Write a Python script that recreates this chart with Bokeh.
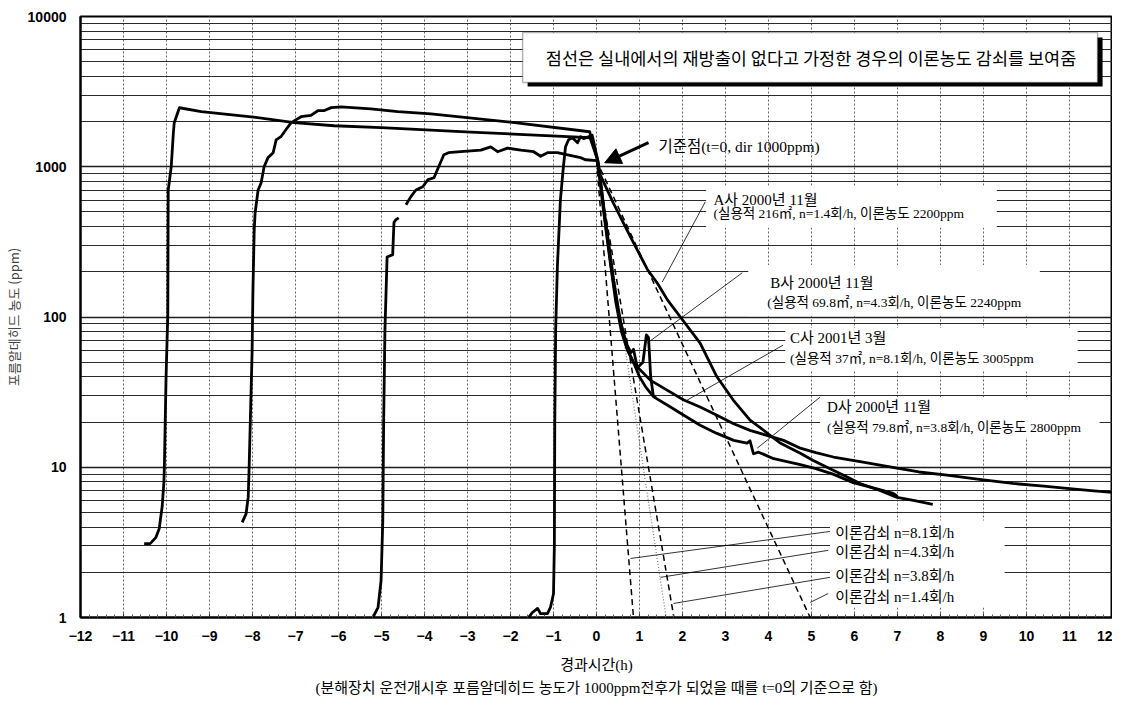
import numpy as np
from bokeh.plotting import figure
from bokeh.models import (Range1d, FixedTicker, Label, BoxAnnotation, Arrow,
                          NormalHead, Title)
from bokeh.embed import file_html
from bokeh.resources import INLINE

nan = float("nan")

# ---------------- data ----------------
# Company A (curve starting near -10.5 h)
A_t = [-10.52, -10.38, -10.25, -10.17, -10.10, -10.06, -10.05, -10.01, -9.98, -9.97,
       -9.96, -9.89, -9.84, -9.82, -9.70, -9.19, -8.03, -7.03, -6.10, -5.01, -2.92,
       -0.67, -0.15, 0.02, 0.09, 0.39, 0.79, 1.18, 1.42, 1.65, 1.95, 2.41, 2.80, 3.18,
       3.57, 3.97, 4.27, 4.74, 5.04, 5.36, 5.83, 6.13, 6.59, 6.99, 7.40, 7.82]
A_v = [3.1, 3.1, 3.4, 3.9, 5.5, 8, 10, 40, 82, 100,
       700, 1000, 1685, 1965, 2470, 2330, 2150, 1965, 1875, 1820, 1700,
       1585, 1560, 1120, 880, 575, 342, 208, 167, 130, 100, 67, 40, 28,
       20.6, 16.9, 14.5, 12.4, 11.1, 10.0, 8.6, 7.8, 7.0, 6.3, 6.0, 5.67]

# Company B (curve starting near -8.2 h, spike after t=0)
B_t = [-8.24, -8.15, -8.10, -8.08, -8.05, -8.01, -7.99, -7.96, -7.94, -7.87, -7.80,
       -7.73, -7.64, -7.52, -7.45, -7.34, -7.22, -7.10, -6.87, -6.64, -6.48, -6.34,
       -6.17, -5.94, -5.25, -4.62, -3.85, -2.00, -0.16, 0.03, 0.20, 0.40, 0.55, 0.70,
       0.80, 0.86, 0.95, 1.08, 1.16, 1.21, 1.26, 1.32, 1.38]
B_v = [4.3, 4.9, 6.3, 9.5, 20.6, 57.5, 150, 380, 490, 700, 780,
       1000, 1150, 1240, 1510, 1585, 1770, 1965, 2154, 2200, 2360, 2360,
       2474, 2500, 2430, 2326, 2250, 1980, 1710, 1100, 460, 175, 95, 66,
       58, 61, 46, 50, 76, 73, 40, 30, 29]

# Company C (curve starting near -5.2 h, continues to 12 h)
C_t = [-5.20, -5.08, -5.01, -4.97, -4.95, -4.92, -4.87, -4.74, -4.71, -4.67, -4.60, nan,
       -4.43, -4.32, -4.20, -4.04, -3.92, -3.78, -3.67, -3.55, -3.44, -3.16, -2.69,
       -2.46, -2.30, -2.07, -1.76, -1.46, -1.30, -1.14, -0.91, -0.67, -0.37, -0.26,
       0.02, 0.10, 0.20, 0.30, 0.40, 0.50, 0.60, 0.72, 0.87, 1.25, 1.64, 2.03, 2.41,
       2.80, 3.19, 3.57, 3.96, 4.35, 4.74, 5.10, 5.51, 6.13, 6.99, 7.50, 8.15, 8.90,
       9.68, 10.40, 11.00, 11.50, 12.00]
C_v = [1.0, 1.17, 1.76, 4.4, 20, 82, 251, 260, 425, 443, 457, nan,
       558, 630, 700, 736, 820, 845, 1000, 1202, 1240, 1259, 1290,
       1355, 1259, 1330, 1290, 1259, 1175, 1240, 1240, 1200, 1150, 1113,
       1100, 780, 440, 265, 165, 112, 82, 61, 49, 38, 32.6, 28, 25.2,
       22.2, 19.5, 17.6, 16.3, 15.1, 13.4, 12.5, 11.7, 10.9, 9.85, 9.3, 8.85, 8.3,
       7.8, 7.5, 7.2, 7.0, 6.8]

# Company D (curve starting near -1.6 h)
D_t = [-1.58, -1.49, -1.37, -1.30, -1.14, -1.07, -1.00, -0.98, -0.97, -0.95, -0.91,
       -0.84, -0.77, -0.72, -0.65, -0.56, -0.44, -0.37, -0.30, -0.19, -0.10, 0.03,
       0.12, 0.22, 0.33, 0.45, 0.58, 0.72, 0.86, 1.00, 1.15, 1.33, 1.72, 2.03, 2.41,
       2.80, 3.19, 3.50, 3.57, 3.65, 3.77, 4.12, 4.74, 5.10, 5.50, 5.97, 6.50, 6.90, 7.00]
D_v = [1.0, 1.08, 1.15, 1.06, 1.06, 1.17, 1.44, 3, 20, 82, 215,
       600, 1000, 1360, 1514, 1560, 1445, 1585, 1540, 1585, 1620, 1100,
       640, 380, 220, 125, 80, 60, 50, 40, 34, 29.4, 25.2, 22.2, 19.05,
       16.8, 15.1, 14.5, 15.0, 12.3, 12.6, 11.4, 10.4, 9.8, 9.0, 7.9, 7.2, 6.7, 6.4]

# Theoretical decay lines (straight on log axis): start and end points
theory_n = ["8.1", "4.3", "3.8", "1.4"]
theory_t = [[0.0, 0.86], [0.0, 1.62], [0.0, 1.80], [0.0, 4.97]]
theory_v = [[1100, 1], [1100, 1], [1100, 1], [1100, 1]]

x_ticks = list(range(-12, 13))
y_ticks = [1, 10, 100, 1000, 10000]
y_minor = [m * 10 ** d for d in range(4) for m in range(2, 10)]
x_minor = [i / 5 for i in range(-60, 61) if i % 5]

KR = "Noto Sans CJK KR"
MIX = "Liberation Serif, Noto Sans CJK KR"

# ---------------- figure ----------------
p = figure(frame_width=1032, frame_height=601, x_range=Range1d(-12, 12), y_range=Range1d(1, 10000),
           y_axis_type="log", output_backend="svg", toolbar_location=None,
           min_border_left=71, min_border_right=0, min_border_top=16, min_border_bottom=10)
p.background_fill_color = "white"
p.border_fill_color = "white"
p.outline_line_color = "black"
p.outline_line_width = 2

xt = FixedTicker(ticks=x_ticks, minor_ticks=x_minor)
p.xaxis.ticker = xt
p.xgrid.ticker = FixedTicker(ticks=x_ticks)
yt = FixedTicker(ticks=y_ticks, minor_ticks=y_minor)
p.yaxis.ticker = yt
p.ygrid.ticker = yt

p.xgrid.grid_line_color = "#666666"
p.xgrid.grid_line_dash = "2 2"
p.xgrid.grid_line_width = 1
p.ygrid.grid_line_color = "#1e1e1e"
p.ygrid.grid_line_width = 1.3
p.ygrid.minor_grid_line_color = "#2a2a2a"
p.ygrid.minor_grid_line_width = 1

p.xaxis.major_label_overrides = {v: ("\u2212%d" % -v if v < 0 else "%d" % v) for v in x_ticks}
p.yaxis.major_label_overrides = {v: str(v) for v in y_ticks}

for ax in (p.xaxis, p.yaxis):
    ax.axis_line_color = "black"
    ax.axis_line_width = 2
    ax.major_label_text_font = "Liberation Sans"
    ax.major_label_text_font_size = "14px"
    ax.major_label_text_color = "black"
p.xaxis.major_label_text_font_style = "bold"
p.yaxis.major_label_text_font_style = "bold"
p.xaxis.major_tick_in = 4
p.xaxis.major_tick_out = 0
p.xaxis.major_tick_line_color = "#333333"
p.xaxis.minor_tick_in = 3
p.xaxis.minor_tick_out = 0
p.xaxis.minor_tick_line_color = "#555555"
p.xaxis.major_label_standoff = 13
p.yaxis.major_tick_line_color = None
p.yaxis.minor_tick_line_color = None
p.yaxis.major_label_standoff = 8

p.xaxis.axis_label = "경과시간(h)"
p.xaxis.axis_label_text_font = MIX
p.xaxis.axis_label_text_font_size = "15px"
p.xaxis.axis_label_text_font_style = "normal"
p.xaxis.axis_label_text_color = "black"
p.xaxis.axis_label_standoff = 13

p.yaxis.axis_label = "포름알데히드 농도 (ppm)"
p.yaxis.axis_label_text_font = KR
p.yaxis.axis_label_text_font_size = "13px"
p.yaxis.axis_label_text_font_style = "normal"
p.yaxis.axis_label_text_color = "#444444"
p.yaxis.axis_label_standoff = 2

p.add_layout(Title(text="(분해장치 운전개시후 포름알데히드 농도가 1000ppm전후가 되었을 때를 t=0의 기준으로 함)",
                   align="center", text_font=MIX, text_font_size="15px",
                   text_font_style="normal", text_color="black", standoff=4), "below")

# theoretical lines
styles = [dict(line_dash="6 4", line_color="black", line_width=1.5),
          dict(line_dash="1 2", line_color="#777777", line_width=1.2),
          dict(line_dash="6 4", line_color="black", line_width=1.5),
          dict(line_dash="6 4", line_color="black", line_width=1.5)]
for tt, vv, st in zip(theory_t, theory_v, styles):
    p.line(tt, vv, **st)

# measured curves
for tt, vv in ((A_t, A_v), (B_t, B_v), (C_t, C_v), (D_t, D_v)):
    p.line(np.array(tt, dtype=float), np.array(vv, dtype=float),
           line_color="black", line_width=2.8, line_join="round")

# ---------------- annotations ----------------
# leader lines
lead_x0 = [2.53, 3.39, 4.34, 5.20, 5.43, 5.39, 5.43, 5.39]
lead_y0 = [584, 197, 65, 29.3, 3.74, 2.8, 1.85, 1.445]
lead_x1 = [1.53, 1.18, 2.11, 3.74, 0.79, 1.49, 1.79, 4.97]
lead_y1 = [171, 67, 28, 13.4, 2.47, 1.85, 1.24, 1.26]
p.segment(lead_x0, lead_y0, lead_x1, lead_y1, line_color="black", line_width=0.8)

# white backgrounds behind labels
for l, r, b, t in [(2.55, 9.31, 392, 747), (3.53, 10.31, 101, 222), (4.39, 11.19, 44.3, 84.5),
                   (5.2, 11.7, 15.8, 29.3), (5.43, 9.49, 1.166, 4.43)]:
    p.add_layout(BoxAnnotation(left=l, right=r, bottom=b, top=t, fill_color="white",
                               fill_alpha=1, line_color=None))

# note box with shadow
p.add_layout(BoxAnnotation(left=-1.602, right=11.769, bottom=3415, top=7244,
                           fill_color="black", fill_alpha=1, line_color=None))
p.add_layout(BoxAnnotation(left=-1.718, right=11.653, bottom=3631, top=7824,
                           fill_color="white", fill_alpha=1, line_color="black", line_width=1.5))
p.add_layout(Label(x=4.99, y=5330, text="점선은 실내에서의 재방출이 없다고 가정한 경우의 이론농도 감쇠를 보여줌",
                   text_align="center", text_baseline="middle", text_font=KR,
                   text_font_size="17.5px", text_color="black"))

# reference point
p.add_layout(Arrow(end=NormalHead(size=16, fill_color="black", line_color="black"),
                   x_start=1.21, y_start=1445, x_end=0.19, y_end=1063,
                   line_width=3, line_color="black"))
p.add_layout(Label(x=1.44, y=1359, text="기준점(t=0, dir 1000ppm)", text_baseline="middle",
                   text_font=MIX, text_font_size="15.5px", text_color="black"))

labels = [
    (2.72, 603, "A사 2000년 11월", "15px"),
    (2.72, 486, "(실용적 216㎡, n=1.4회/h, 이론농도 2200ppm", "13.5px"),
    (4.04, 168.5, "B사 2000년 11월", "15px"),
    (3.97, 124, "(실용적 69.8㎡, n=4.3회/h, 이론농도 2240ppm", "13.5px"),
    (4.50, 72.4, "C사 2001년 3월", "15px"),
    (4.50, 53.3, "(실용적 37㎡, n=8.1회/h, 이론농도 3005ppm", "13.5px"),
    (5.36, 25.1, "D사 2000년 11월", "15px"),
    (5.36, 18.5, "(실용적 79.8㎡, n=3.8회/h, 이론농도 2800ppm", "13.5px"),
]
for x, y, txt, fs in labels:
    p.add_layout(Label(x=x, y=y, text=txt, text_baseline="middle", text_font=MIX,
                       text_font_size=fs, text_color="black"))

for n, y in zip(theory_n, [3.63, 2.71, 1.9, 1.36]):
    p.add_layout(Label(x=5.55, y=y, text="이론감쇠  n=%s회/h" % n, text_baseline="middle",
                       text_font=MIX, text_font_size="15px", text_color="black"))

open("out.html", "w").write(file_html(p, INLINE))
